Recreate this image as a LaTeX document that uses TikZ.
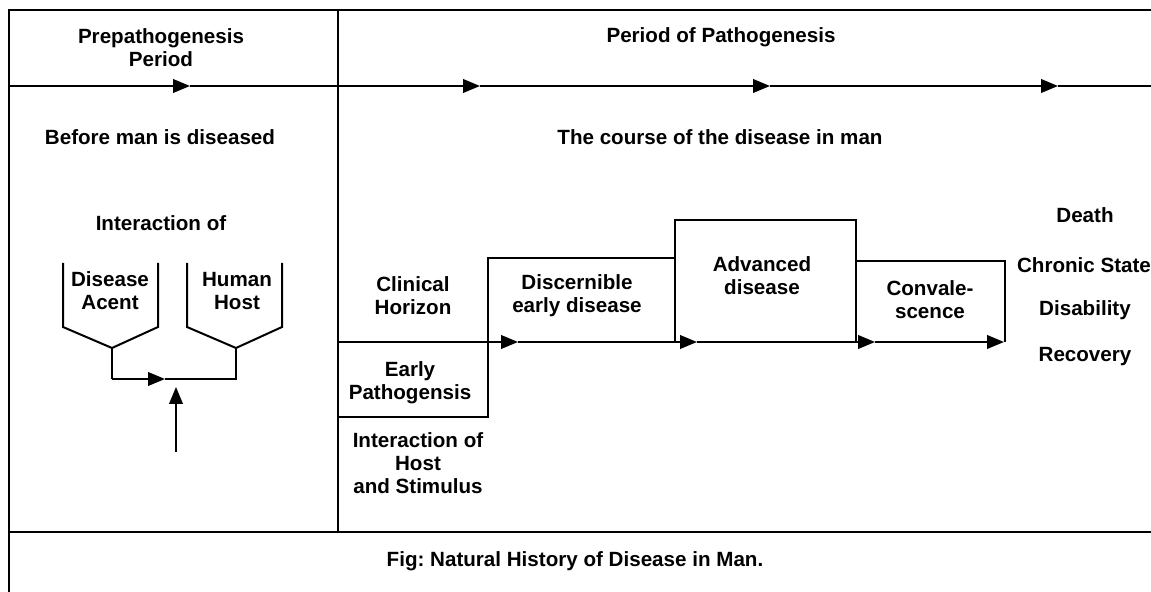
\documentclass[tikz,border=0pt]{standalone}
\usepackage{fontspec}
\setmainfont{Liberation Sans}
\frenchspacing
\usetikzlibrary{arrows.meta}
\begin{document}
\begin{tikzpicture}[x=0.5pt,y=-0.5pt,
  line width=1pt,
  lbl/.style={inner sep=0pt,align=center,font=\fontsize{10.3}{11.5}\selectfont\bfseries},
  arr/.style={-{Triangle[length=8.5pt,width=6.8pt]}},
  ln/.style={line width=1pt}]
\useasboundingbox (0,0) rectangle (1151,592);
% frame
\coordinate (tl) at (9,10); \coordinate (tr) at (1151,10);
\coordinate (bl) at (9,592);
\coordinate (ml) at (9,86); \coordinate (mr) at (1151,86);
\coordinate (dt) at (338,10); \coordinate (db) at (338,532);
\coordinate (cl) at (9,532); \coordinate (cr) at (1151,532);
\draw[ln] (bl) -- (tl) -- (tr);
\draw[ln] (dt) -- (db);
\draw[ln] (cl) -- (cr);
% top timeline with arrows
\coordinate (a1) at (190,86); \coordinate (a2) at (480,86);
\coordinate (a3) at (770,86); \coordinate (a4) at (1058,86);
\draw[ln,arr] (ml) -- (a1);
\draw[ln,arr] (a1) -- (a2);
\draw[ln,arr] (a2) -- (a3);
\draw[ln,arr] (a3) -- (a4);
\draw[ln] (a4) -- (mr);
% header texts
\node[lbl] (pre) at (161,48) {Prepathogenesis\\Period};
\node[lbl] (pp) at (721,37) {Period of Pathogenesis};
\node[lbl] (before) at (160,137) {Before man is diseased};
\node[lbl] (course) at (720,137) {The course of the disease in man};
% left: interaction
\node[lbl] (inter) at (161,223) {Interaction of};
\node[lbl] (da) at (110,291) {Disease\\Acent};
\node[lbl] (hh) at (237,291) {Human\\Host};
\coordinate (f1) at (112,348); \coordinate (f2) at (236,348);
\coordinate (g1) at (112,379); \coordinate (g2) at (236,379);
\coordinate (gm) at (165,379);
\draw[ln] (63,263) -- (63,327) -- (f1) -- (158,327) -- (158,263);
\draw[ln] (187,263) -- (187,327) -- (f2) -- (282,327) -- (282,263);
\draw[ln] (f1) -- (g1);
\draw[ln,arr] (g1) -- (gm);
\draw[ln] (gm) -- (g2) -- (f2);
\coordinate (vb) at (176,452); \coordinate (vt) at (176,387);
\draw[ln,arr] (vb) -- (vt);
% right: course of disease
\coordinate (b0) at (338,342); \coordinate (b1) at (518,342);
\coordinate (b2) at (697,342); \coordinate (b3) at (875,342);
\coordinate (b4) at (1004,342);
\draw[ln,arr] (b0) -- (b1);
\draw[ln,arr] (b1) -- (b2);
\draw[ln,arr] (b2) -- (b3);
\draw[ln,arr] (b3) -- (b4);
\draw[ln] (338,417) -- (488,417) -- (488,258) -- (675,258);
\draw[ln] (675,342) -- (675,220) -- (856,220) -- (856,342);
\draw[ln] (856,261) -- (1005,261) -- (1005,342);
\node[lbl] (clin) at (413,296) {Clinical\\Horizon};
\node[lbl] (disc) at (577,296) {Discernible\\early disease};
\node[lbl] (early) at (410,383) {Early\\Pathogensis};
\node[lbl] (ihs) at (418,463) {Interaction of\\Host\\and Stimulus};
\node[lbl] (adv) at (762,276) {Advanced\\disease};
\node[lbl] (conv) at (930,300) {Convale-\\scence};
\node[lbl] (death) at (1085,215) {Death};
\node[lbl] (chron) at (1084,265) {Chronic State};
\node[lbl] (disab) at (1085,310) {Disability};
\node[lbl] (recov) at (1085,357) {Recovery};
% caption
\node[lbl] (cap) at (575,561) {Fig: Natural History of Disease in Man.};
\end{tikzpicture}
\end{document}
